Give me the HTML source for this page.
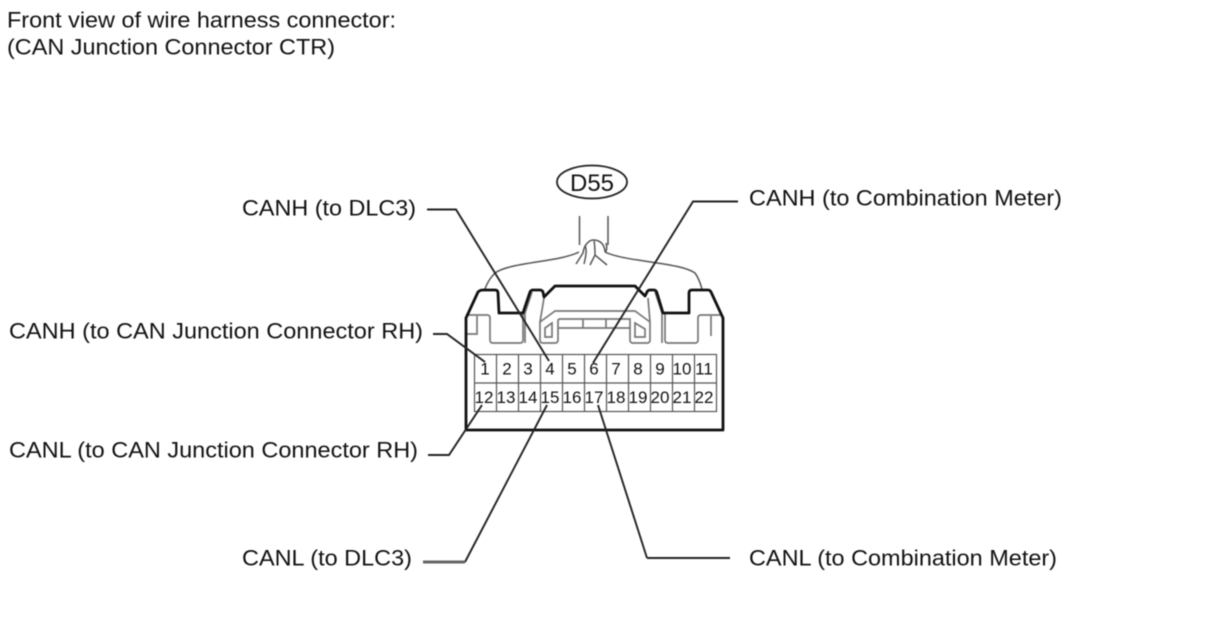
<!DOCTYPE html>
<html>
<head>
<meta charset="utf-8">
<style>
html,body{margin:0;padding:0;background:#fff;width:1208px;height:644px;overflow:hidden}
svg{display:block;filter:blur(0.55px)}
text{font-family:"Liberation Sans",sans-serif;fill:#111}
.l{font-size:22.500px}
.n{font-size:17px;text-anchor:middle}
</style>
</head>
<body>
<svg width="1208" height="644" viewBox="0 0 1208 644" xmlns="http://www.w3.org/2000/svg">
<text class="l" x="7" y="27.500" textLength="389" lengthAdjust="spacingAndGlyphs">Front view of wire harness connector:</text>
<text class="l" x="7" y="54.500" textLength="328" lengthAdjust="spacingAndGlyphs">(CAN Junction Connector CTR)</text>
<text class="l" x="242" y="215.500" textLength="174" lengthAdjust="spacingAndGlyphs">CANH (to DLC3)</text>
<text class="l" x="749" y="205.500" textLength="313" lengthAdjust="spacingAndGlyphs">CANH (to Combination Meter)</text>
<text class="l" x="9" y="338.500" textLength="414" lengthAdjust="spacingAndGlyphs">CANH (to CAN Junction Connector RH)</text>
<text class="l" x="9" y="457.500" textLength="409" lengthAdjust="spacingAndGlyphs">CANL (to CAN Junction Connector RH)</text>
<text class="l" x="242" y="565.500" textLength="170" lengthAdjust="spacingAndGlyphs">CANL (to DLC3)</text>
<text class="l" x="749" y="565.500" textLength="308" lengthAdjust="spacingAndGlyphs">CANL (to Combination Meter)</text>

<ellipse cx="592" cy="182" rx="35" ry="16.500" fill="none" stroke="#222" stroke-width="1.8"/>
<text x="570" y="191" font-size="24" textLength="44" lengthAdjust="spacingAndGlyphs">D55</text>

<!-- wires -->
<g fill="none" stroke="#555" stroke-width="1.500">
<path d="M579.500 216V245M608 216V245"/>
<path d="M579 252C560 262 510 262 495 273C490 278 487 283 485 289"/>
<path d="M605 252C625 262 680 262 695 273C698 277 700 282 702 289"/>
<path d="M576 264L583 253C584 244 590 240 593 240C600 240 604 244 605 251C605 254 608 249 606 243"/>
<path d="M584 264C586 256 587 250 585 245M590 265L595 255L607 265M595 255C595 250 595 246 594 241"/>
</g>

<!-- inner light lines -->
<g fill="none" stroke="#777" stroke-width="1.700">
<path d="M466 315H487Q490 315 490 318V340Q490 343 493 343H520Q523 343 523 340V313"/>
<path d="M467 334H477V316"/>
<path d="M665 313V340Q665 343 668 343H695Q698 343 698 340V318Q698 315 701 315H720"/>
<path d="M711 316V336"/>
<path d="M544 298L540 322V340Q540 343 543 343H555Q558 343 558 340V321Q558 319 560 319H630V340Q630 343 633 343H647Q650 343 650 340V322L648 298"/>
<path d="M540 322L555 311H635L650 322"/>
<path d="M558 328H630M583 319V328M606 319V328"/>
<path d="M545 328L552 323V337H545Z"/>
<path d="M635 323L645 329V337H635Z"/>
<path d="M655 292L662 313V343"/>
<path d="M532 292L525 313V343"/>
</g>

<!-- grid -->
<g fill="none" stroke="#555" stroke-width="1.200">
<rect x="474.500" y="354.500" width="242" height="57"/>
<path d="M474.500 383H716.500"/>
<path d="M496.500 354V411M518.500 354V411M540.500 354V411M562.500 354V411M584.500 354V411M606.500 354V411M628.500 354V411M650.500 354V411M672.500 354V411M694.500 354V411"/>
</g>

<g class="nums">
<text class="n" x="485" y="374.500">1</text><text class="n" x="507" y="374.500">2</text><text class="n" x="528" y="374.500">3</text><text class="n" x="550" y="374.500">4</text><text class="n" x="572" y="374.500">5</text><text class="n" x="594" y="374.500">6</text><text class="n" x="616" y="374.500">7</text><text class="n" x="638" y="374.500">8</text><text class="n" x="660" y="374.500">9</text><text class="n" x="682" y="374.500">10</text><text class="n" x="704" y="374.500">11</text>
<text class="n" x="484" y="403">12</text><text class="n" x="506" y="403">13</text><text class="n" x="528" y="403">14</text><text class="n" x="550" y="403">15</text><text class="n" x="572" y="403">16</text><text class="n" x="594" y="403">17</text><text class="n" x="616" y="403">18</text><text class="n" x="638" y="403">19</text><text class="n" x="660" y="403">20</text><text class="n" x="682" y="403">21</text><text class="n" x="704" y="403">22</text>
</g>

<!-- body outline -->
<path d="M466 318L478 292Q480 290 483 290H495Q498 290 498 293L499 313H523L530 292Q531 290 533 290H540Q542 290 543 292L544 297L555 286H635L645 296L647 292Q648 290 650 290H654Q656 290 657 293L663 313H689V293Q689 290 692 290H708Q710 290 711 292L723 318V430H466Z" fill="none" stroke="#111" stroke-width="2.800" stroke-linejoin="round"/>

<!-- leaders -->
<g fill="none" stroke="#222" stroke-width="1.900">
<path d="M427 209.500H456L549 361"/>
<path d="M738 201.500H693L593 363"/>
<path d="M433 334H447L485 362"/>
<path d="M428 455H449L482 405"/>
<path d="M647 558H730"/>
<path d="M598 405L647 558"/>
<path d="M465 562L547 405"/>
</g>
<path d="M423 562H465" stroke="#666" stroke-width="3" fill="none"/>
</svg>
</body>
</html>
